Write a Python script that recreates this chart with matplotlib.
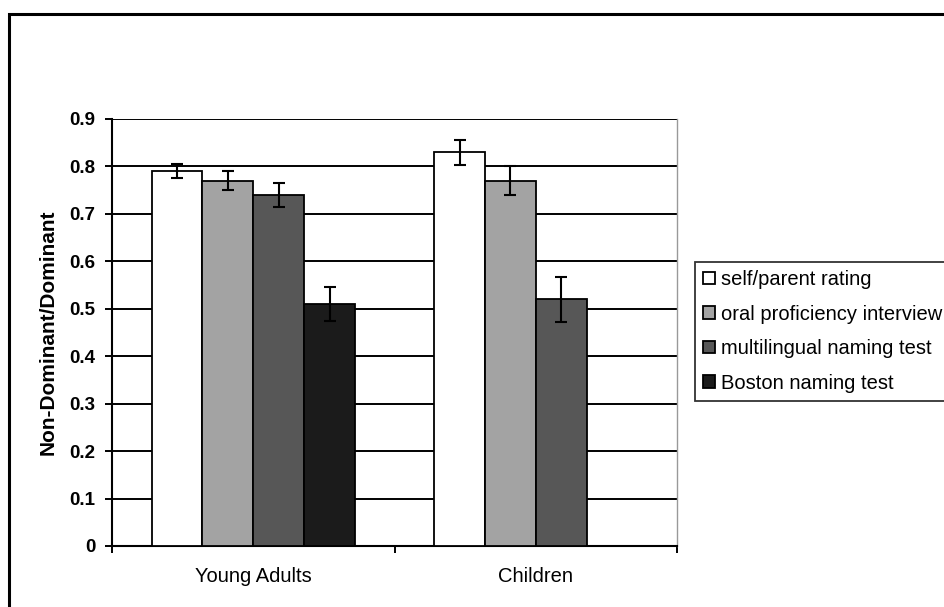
import numpy as np
import matplotlib
matplotlib.use('Agg')
import matplotlib.pyplot as plt
from matplotlib.patches import Rectangle

plt.rcParams['font.family'] = ['Liberation Sans', 'DejaVu Sans']

groups = ['Young Adults', 'Children']
series = ['self/parent rating', 'oral proficiency interview',
          'multilingual naming test', 'Boston naming test']
values = [
    [0.79, 0.83],
    [0.77, 0.77],
    [0.74, 0.52],
    [0.51, np.nan],
]
errors = [
    [0.015, 0.026],
    [0.020, 0.030],
    [0.026, 0.047],
    [0.035, np.nan],
]
colors = ['#ffffff', '#a3a3a3', '#575757', '#1b1b1b']

fig = plt.figure(figsize=(9.45, 6.07), dpi=100)
ax = fig.add_axes([0.1185, 0.1005, 0.598, 0.7035])

x = np.arange(len(groups))
width = 0.18
for i, (name, vals, errs, col) in enumerate(zip(series, values, errors, colors)):
    pos = x - 1.5 * width + i * width
    ax.bar(pos, vals, width, color=col, edgecolor='black', linewidth=1.3,
           label=name, zorder=3)
    ax.errorbar(pos, vals, yerr=errs, fmt='none', ecolor='black',
                elinewidth=1.5, capsize=4, capthick=1.5, zorder=4)

ax.set_xlim(-0.5, 1.5)
ax.set_ylim(0, 0.9)
ax.set_yticks(np.arange(0, 0.91, 0.1))
ax.set_yticklabels(['0'] + ['%.1f' % v for v in np.arange(0.1, 0.91, 0.1)],
                   fontsize=13.5, fontweight='bold')
ax.yaxis.grid(True, color='black', linewidth=1.4, zorder=0)
ax.set_axisbelow(True)

ax.set_xticks(x)
ax.set_xticklabels(groups, fontsize=14.5)
ax.tick_params(axis='x', which='major', length=0, pad=15)
ax.set_xticks([-0.5, 0.5, 1.5], minor=True)
ax.tick_params(axis='x', which='minor', length=5, width=1.4, direction='out')
ax.tick_params(axis='y', length=5, width=1.4, direction='out', pad=7)

for s in ['left', 'bottom']:
    ax.spines[s].set_linewidth(1.5)
    ax.spines[s].set_color('black')
ax.spines['top'].set_visible(False)
ax.spines['right'].set_color('#999999')
ax.spines['right'].set_linewidth(1.0)

ax.set_ylabel('Non-Dominant/Dominant', fontsize=15, fontweight='bold', labelpad=8)

leg = fig.legend(loc='upper left', bbox_to_anchor=(695 / 945, 1 - 262 / 607),
                 fontsize=14.5, frameon=True, fancybox=False,
                 handlelength=0.6, handleheight=0.6, handletextpad=0.3,
                 labelspacing=0.77, borderpad=0.4, borderaxespad=0)
leg.get_frame().set_edgecolor('black')
leg.get_frame().set_linewidth(1.3)

fig.patches.append(Rectangle((9 / 945, -0.1), 1.2, 1.1 - 14 / 607,
                             transform=fig.transFigure, fill=False,
                             edgecolor='black', linewidth=2.2))

fig.savefig('out.png', dpi=100)
